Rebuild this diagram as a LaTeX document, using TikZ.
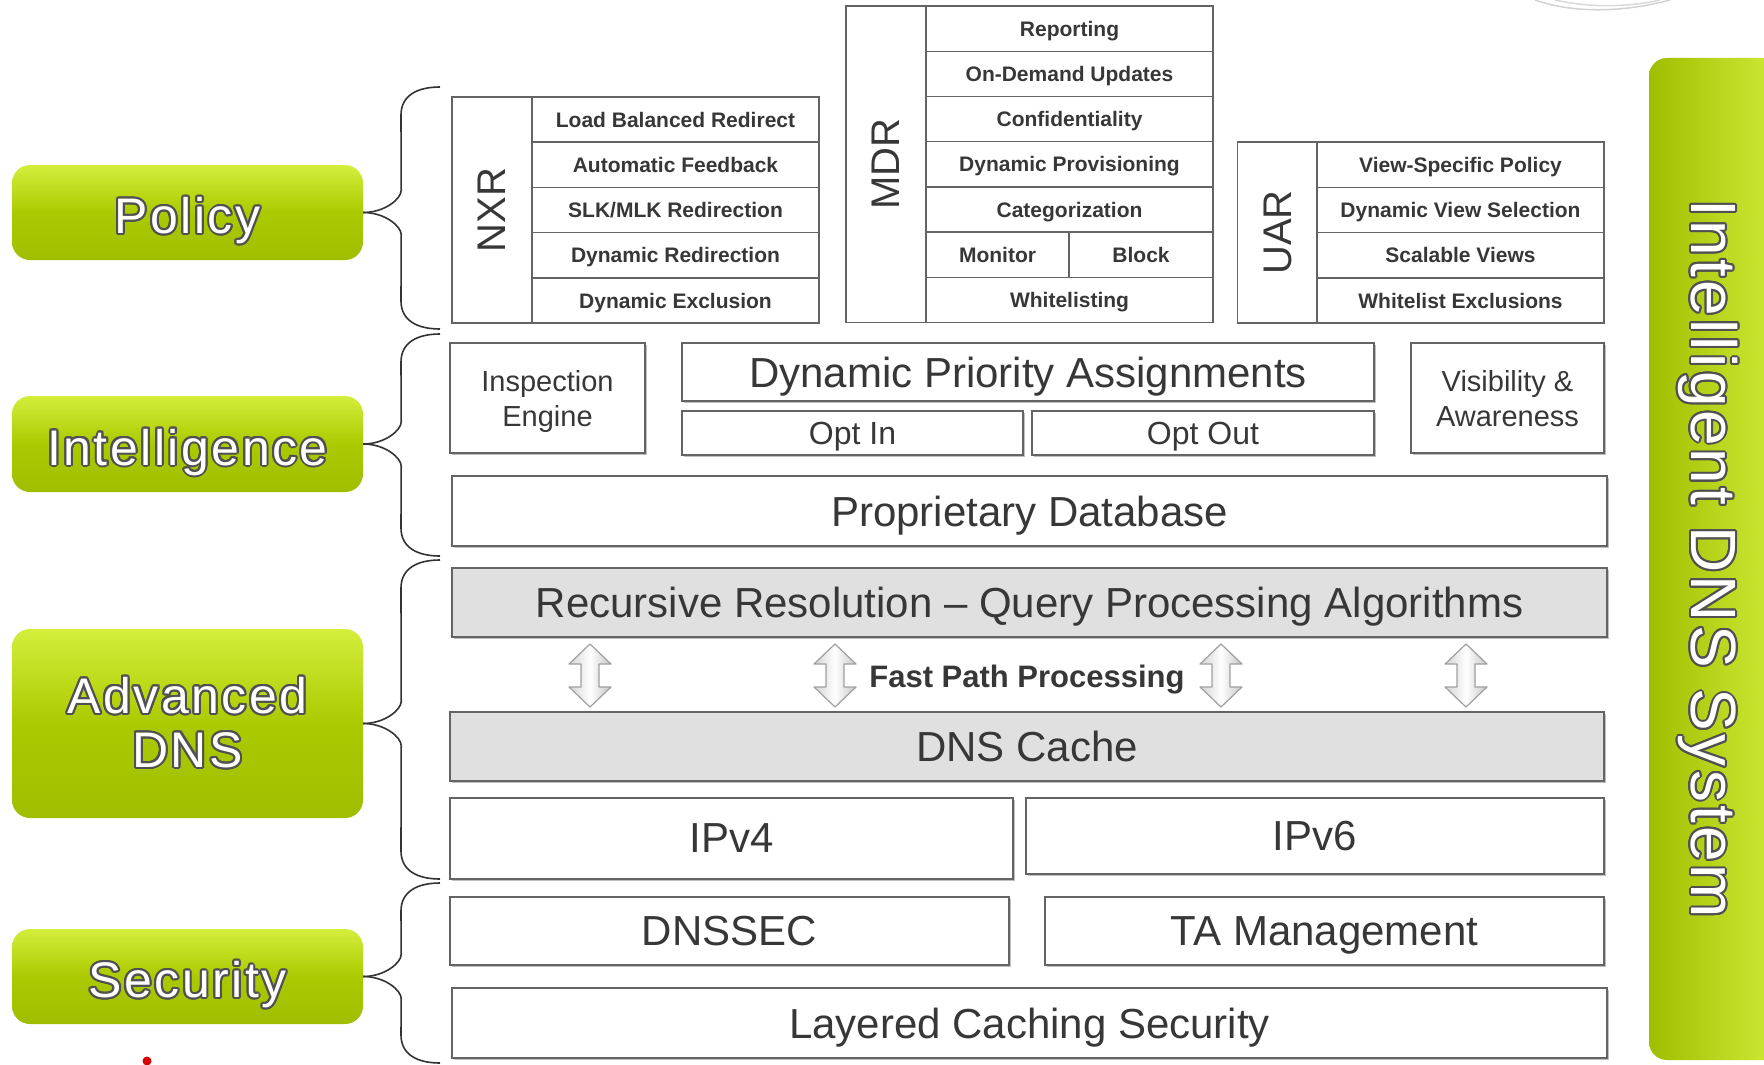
\documentclass[tikz,border=0pt]{standalone}
\usepackage{fontspec}
\setmainfont{Liberation Sans}
\newfontfamily\spacedfont[LetterSpace=5]{Liberation Sans}
\usepackage{contour}
\contourlength{2pt}
\usetikzlibrary{shadows}

\definecolor{edgegray}{RGB}{100,100,100}
\definecolor{txtgray}{RGB}{55,55,55}
\definecolor{fillgray}{RGB}{224,224,224}
\definecolor{outlgray}{RGB}{80,80,80}
\definecolor{limeA}{RGB}{212,238,60}
\definecolor{limeB}{RGB}{172,202,0}
\definecolor{limeC}{RGB}{160,190,0}

\newcommand\boxfont{\fontsize{42}{48}\selectfont}
\newcommand\midfont{\fontsize{32}{36}\selectfont}
\newcommand\smallfont{\fontsize{29}{35}\selectfont}
\newcommand\cellfont{\fontsize{21}{24}\selectfont\bfseries}
\newcommand\tabfont{\fontsize{40}{42}\selectfont}
\newcommand\grpfont{\fontsize{50}{54}\selectfont\spacedfont}
\newcommand\barfont{\fontsize{64}{70}\selectfont\spacedfont}
\newcommand\outl[1]{\contour{outlgray}{\textcolor{white}{#1}}}

% brace from a group box to the layers it covers
\newcommand\grpbrace[3]{%
  \draw[bracestyle] (#1.east) .. controls +(22,0) and +(0,8) .. ++(38,-22)
    -- (401,#2+28) .. controls +(0,-20) and +(-22,0) .. (440,#2);
  \draw[bracestyle] (#1.east) .. controls +(22,0) and +(0,-8) .. ++(38,22)
    -- (401,#3-28) .. controls +(0,20) and +(-22,0) .. (440,#3);
}

\tikzset{
  box/.style={draw=edgegray, line width=2pt, fill=white, inner sep=0pt,
    text=txtgray, align=center, text depth=0pt,
    drop shadow={shadow xshift=2pt, shadow yshift=-2pt, fill=black!25, opacity=1}},
  graybox/.style={box, fill=fillgray},
  cell/.style={draw=edgegray, line width=1.5pt, fill=white, inner sep=0pt,
    text depth=0pt, minimum height=45.2pt, minimum width=287pt,
    font=\cellfont, text=txtgray},
  tablbl/.style={cell, minimum width=80pt, font=\tabfont},
  green/.style={rounded corners=18pt, top color=limeA, bottom color=limeC,
    middle color=limeB, minimum width=351pt, inner sep=0pt, align=center,
    font=\grpfont},
  oneline/.style={text height=42pt, text depth=0pt},
  bracestyle/.style={draw=black!80, line width=1.6pt},
  fastarrow/.style={draw=gray!75, line width=1.2pt, line join=round,
    left color=gray!35, right color=gray!45, middle color=white}
}

\begin{document}
\begin{tikzpicture}[x=1pt,y=-1pt]
  \useasboundingbox (0,0) rectangle (1764,1065);

  % logo swoosh, top right
  \draw[gray!35, line width=1.5pt] (1535,0) .. controls (1575,14) and (1625,12) .. (1670,0);
  \draw[gray!30, line width=1.5pt] (1555,0) .. controls (1590,8) and (1630,7) .. (1660,0);

  % group boxes on the left
  \node[green, oneline, minimum height=95pt] (policy) at (187.5,212.5) {\outl{Policy}};
  \node[green, oneline, minimum height=96pt] (intel) at (187.5,444) {\outl{Intelligence}};
  \node[green, minimum height=189pt] (adv) at (187.5,723.5) {\outl{Advanced}\\\outl{DNS}};
  \node[green, oneline, minimum height=95pt] (sec) at (187.5,976.5) {\outl{Security}};
  \fill[red!85!black] (147,1061) circle (4.5);

  \grpbrace{policy}{87}{329}
  \grpbrace{intel}{334}{556}
  \grpbrace{adv}{560}{879}
  \grpbrace{sec}{883}{1063}

  % NXR table
  \node[tablbl, minimum height=226pt] (nxr) at (492,210) {\rotatebox{90}{NXR}};
  \foreach \txt [count=\i] in {Load Balanced Redirect, Automatic Feedback,
      SLK/MLK Redirection, Dynamic Redirection, Dynamic Exclusion}
    \node[cell] (nxr\i) at (675.5,74.4+45.2*\i) {\txt};

  % MDR table
  \node[tablbl, minimum height=316.4pt] (mdr) at (886,164.3) {\rotatebox{90}{MDR}};
  \foreach \txt [count=\i] in {Reporting, On-Demand Updates, Confidentiality,
      Dynamic Provisioning, Categorization}
    \node[cell] (mdr\i) at (1069.5,-16.5+45.2*\i) {\txt};
  \node[cell, minimum width=143pt] (monitor) at (997.5,254.7) {Monitor};
  \node[cell, minimum width=144pt] (block) at (1141,254.7) {Block};
  \node[cell] (mdr7) at (1069.5,299.9) {Whitelisting};

  % UAR table
  \node[tablbl, minimum height=180.8pt] (uar) at (1277.5,232.4) {\rotatebox{90}{UAR}};
  \foreach \txt [count=\i] in {View-Specific Policy, Dynamic View Selection,
      Scalable Views, Whitelist Exclusions}
    \node[cell] (uar\i) at (1460.5,119.6+45.2*\i) {\txt};

  % intelligence layer
  \node[box, minimum width=195pt, minimum height=110pt, font=\smallfont] (insp)
    at (547.5,398) {Inspection\\Engine};
  \node[box, minimum width=692pt, minimum height=58pt, font=\boxfont] (dpa)
    at (1028,372) {Dynamic Priority Assignments};
  \node[box, minimum width=341pt, minimum height=44pt, font=\midfont] (optin)
    at (852.5,433) {Opt In};
  \node[box, minimum width=342pt, minimum height=44pt, font=\midfont] (optout)
    at (1203,433) {Opt Out};
  \node[box, minimum width=193pt, minimum height=110pt, font=\smallfont] (vis)
    at (1507.5,398) {Visibility \&\\Awareness};
  \node[box, minimum width=1155pt, minimum height=70pt, font=\boxfont] (pdb)
    at (1029.5,511) {Proprietary Database};

  % advanced DNS layer
  \node[graybox, minimum width=1155pt, minimum height=69pt, font=\boxfont] (rec)
    at (1029.5,602.5) {Recursive Resolution -- Query Processing Algorithms};
  \node[graybox, minimum width=1154pt, minimum height=69pt, font=\boxfont] (cache)
    at (1027,746.5) {DNS Cache};
  \foreach \ax in {590,835,1221,1466}
    \draw[fastarrow] (\ax,644) -- (\ax+21,664) -- (\ax+9,664) -- (\ax+9,687)
      -- (\ax+21,687) -- (\ax,707) -- (\ax-21,687) -- (\ax-9,687)
      -- (\ax-9,664) -- (\ax-21,664) -- cycle;
  \node[text=txtgray, text depth=0pt, font=\fontsize{31}{34}\selectfont\bfseries] (fast)
    at (1027,676) {Fast Path Processing};
  \node[box, minimum width=563pt, minimum height=81pt, font=\boxfont] (ipv4)
    at (731.5,838.5) {IPv4};
  \node[box, minimum width=578pt, minimum height=76pt, font=\boxfont] (ipv6)
    at (1315,836) {IPv6};

  % security layer
  \node[box, minimum width=559pt, minimum height=68pt, font=\boxfont] (dnssec)
    at (729.5,931) {DNSSEC};
  \node[box, minimum width=559pt, minimum height=68pt, font=\boxfont] (tam)
    at (1324.5,931) {TA Management};
  \node[box, minimum width=1155pt, minimum height=70pt, font=\boxfont] (lcs)
    at (1029.5,1023) {Layered Caching Security};

  % system bar on the right
  \node[rounded corners=18pt, left color=limeC, right color=limeA,
    minimum width=141pt, minimum height=1002pt] (sysbar) at (1719.5,559) {};
  \node[font=\barfont, rotate=-90] (systext) at (1707,559)
    {\outl{Intelligent DNS System}};
\end{tikzpicture}
\end{document}
